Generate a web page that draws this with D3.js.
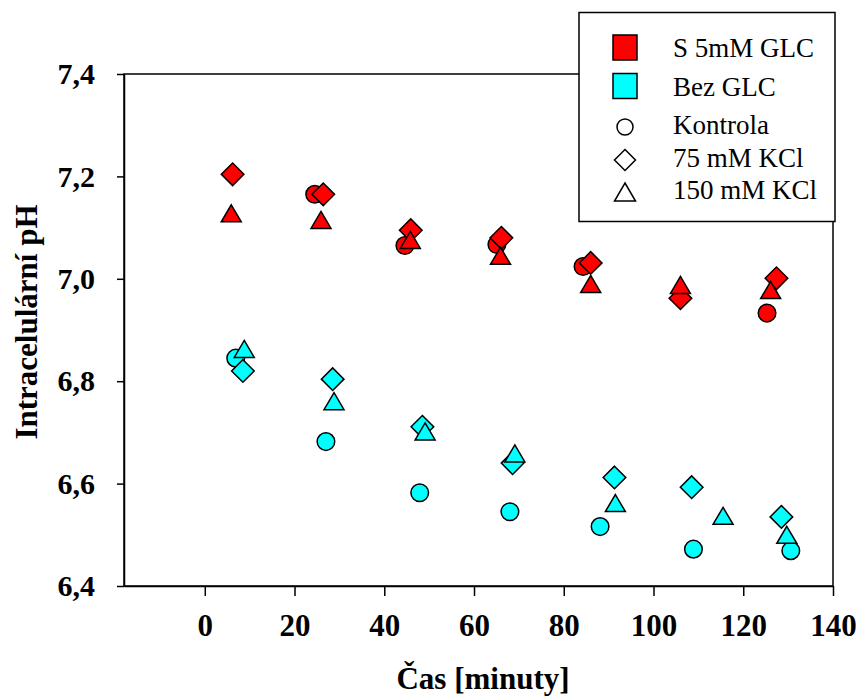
<!DOCTYPE html>
<html>
  <head>
    <meta charset="utf-8">
    <title>Intracelulární pH</title>
    <script src="https://d3js.org/d3.v7.min.js"></script>
    <style>
      body { margin: 0; background: #fff; }
      svg { display: block; }
      text { font-family: "Liberation Serif", "Times New Roman", serif; }
      .tick text { font-weight: bold; fill: #000; }
      .legendText { font-size: 27px; }
    </style>
  </head>
  <body>
    <svg id="chart" width="858" height="698"></svg>
    <script>
      // data: [time in minutes, pH]
      const glcKontrola = [[24.5, 7.165], [44.6, 7.065], [65.1, 7.067], [84.3, 7.024], [125.3, 6.933]];
      const glcKcl75 = [[6.2, 7.204], [26.4, 7.165], [45.9, 7.095], [66.1, 7.080], [86.0, 7.031], [106.0, 6.962], [127.4, 7.001]];
      const glcKcl150 = [[5.9, 7.128], [25.9, 7.115], [45.8, 7.076], [65.9, 7.045], [86.0, 6.990], [106.0, 6.988], [126.1, 6.978]];
      const bezKontrola = [[6.9, 6.845], [27.0, 6.682], [47.9, 6.582], [68.0, 6.545], [88.1, 6.516], [108.9, 6.472], [130.6, 6.469]];
      const bezKcl75 = [[8.5, 6.820], [28.5, 6.804], [48.5, 6.711], [68.6, 6.640], [91.3, 6.612], [108.5, 6.593], [128.5, 6.535]];
      const bezKcl150 = [[8.8, 6.863], [28.8, 6.761], [49.1, 6.702], [69.1, 6.659], [91.5, 6.562], [115.5, 6.537], [129.7, 6.500]];
      const xTicks = [0, 20, 40, 60, 80, 100, 120, 140];
      const yTicks = [6.4, 6.6, 6.8, 7.0, 7.2, 7.4];
      const colourLabels = ["S 5mM GLC", "Bez GLC"];
      const shapeLabels = ["Kontrola", "75 mM KCl", "150 mM KCl"];

      chart = d3.select("#chart");
      margin = { top: 74, right: 25, bottom: 112, left: 124 };
      width = 858;
      height = 698;
      serif = '"Liberation Serif", "Times New Roman", serif';

      x = d3.scaleLinear().domain([-18, 140]).range([margin.left, width - margin.right]);
      y = d3.scaleLinear().domain([6.4, 7.4]).range([height - margin.bottom, margin.top]);
      comma = function(d) { return d3.format(".1f")(d).replace(".", ","); };

      // shapes
      function circle(g, fill, r) {
        g.append("circle").attr("r", r).style("fill", fill);
      }
      function diamond(g, fill, h) {
        g.append("path").attr("d", "M0," + (-h) + "L" + h + ",0L0," + h + "L" + (-h) + ",0Z").style("fill", fill);
      }
      function triangle(g, fill, w, h) {
        g.append("path").attr("d", "M0," + (-h / 2) + "L" + (w / 2) + "," + (h / 2) + "L" + (-w / 2) + "," + (h / 2) + "Z").style("fill", fill);
      }

      // frame
      chart.append("rect")
        .attr("x", x(-18)).attr("y", y(7.4))
        .attr("width", x(140) - x(-18)).attr("height", y(6.4) - y(7.4))
        .style("fill", "none").style("stroke", "#000").style("stroke-width", 1.5);

      // axes
      xAxisGroup = chart.append("g")
        .attr("transform", "translate(0," + y(6.4) + ")")
        .call(d3.axisBottom(x).tickValues(xTicks).tickSizeInner(10).tickSizeOuter(0).tickPadding(18));
      xAxisGroup.selectAll("text")
        .style("font-family", serif).style("font-size", "31px");
      yAxisGroup = chart.append("g")
        .attr("transform", "translate(" + x(-18) + ",0)")
        .call(d3.axisLeft(y).tickValues(yTicks).tickFormat(comma).tickSizeInner(7).tickSizeOuter(0).tickPadding(22));
      yAxisGroup.selectAll("text")
        .style("font-family", serif).style("font-size", "30px");
      chart.selectAll(".domain").style("stroke-width", 1.5);
      chart.selectAll(".tick line").style("stroke-width", 1.5);

      chart.append("text")
        .attr("x", 483).attr("y", 689)
        .attr("text-anchor", "middle")
        .style("font-size", "31px").style("font-weight", "bold")
        .text("Čas [minuty]");
      chart.append("text")
        .attr("transform", "translate(37,322) rotate(-90)")
        .attr("text-anchor", "middle")
        .style("font-size", "31px").style("font-weight", "bold")
        .text("Intracelulární pH");

      // points
      series = [
        { data: glcKontrola, fill: "#ff0000", shape: "circle" },
        { data: glcKcl75, fill: "#ff0000", shape: "diamond" },
        { data: glcKcl150, fill: "#ff0000", shape: "triangle" },
        { data: bezKontrola, fill: "#00ffff", shape: "circle" },
        { data: bezKcl75, fill: "#00ffff", shape: "diamond" },
        { data: bezKcl150, fill: "#00ffff", shape: "triangle" }
      ];
      pointGroup = chart.append("g").style("stroke", "#000").style("stroke-width", 1.5);
      series.forEach(function(s) {
        pointGroup.selectAll(null)
          .data(s.data)
          .enter().append("g")
            .attr("transform", function(d) { return "translate(" + x(d[0]) + "," + y(d[1]) + ")"; })
            .each(function() {
              g = d3.select(this);
              if (s.shape == "circle") circle(g, s.fill, 8.8);
              else if (s.shape == "diamond") diamond(g, s.fill, 11.3);
              else triangle(g, s.fill, 20, 17);
            });
      });

      // legend
      legend = chart.append("g");
      legend.append("rect")
        .attr("x", 579).attr("y", 12.5).attr("width", 256).attr("height", 209)
        .style("fill", "#fff").style("stroke", "#000").style("stroke-width", 1.5);
      colourRows = [47.5, 86];
      [ "#ff0000", "#00ffff" ].forEach(function(c, i) {
        legend.append("rect")
          .attr("x", 613).attr("y", colourRows[i] - 12.5).attr("width", 24).attr("height", 25)
          .style("fill", c).style("stroke", "#000").style("stroke-width", 1.5);
        legend.append("text").classed("legendText", true)
          .attr("x", 673).attr("y", colourRows[i] + 9.5)
          .text(colourLabels[i]);
      });
      shapeRows = [127, 160, 192];
      shapeLabels.forEach(function(l, i) {
        g = legend.append("g")
          .attr("transform", "translate(625," + shapeRows[i] + ")")
          .style("stroke", "#000").style("stroke-width", 1.5);
        if (i == 0) circle(g, "#fff", 8);
        else if (i == 1) diamond(g, "#fff", 10.5);
        else triangle(g, "#fff", 21, 18);
        legend.append("text").classed("legendText", true)
          .attr("x", 673).attr("y", shapeRows[i] + 7)
          .text(l);
      });
    </script>
  </body>
</html>
